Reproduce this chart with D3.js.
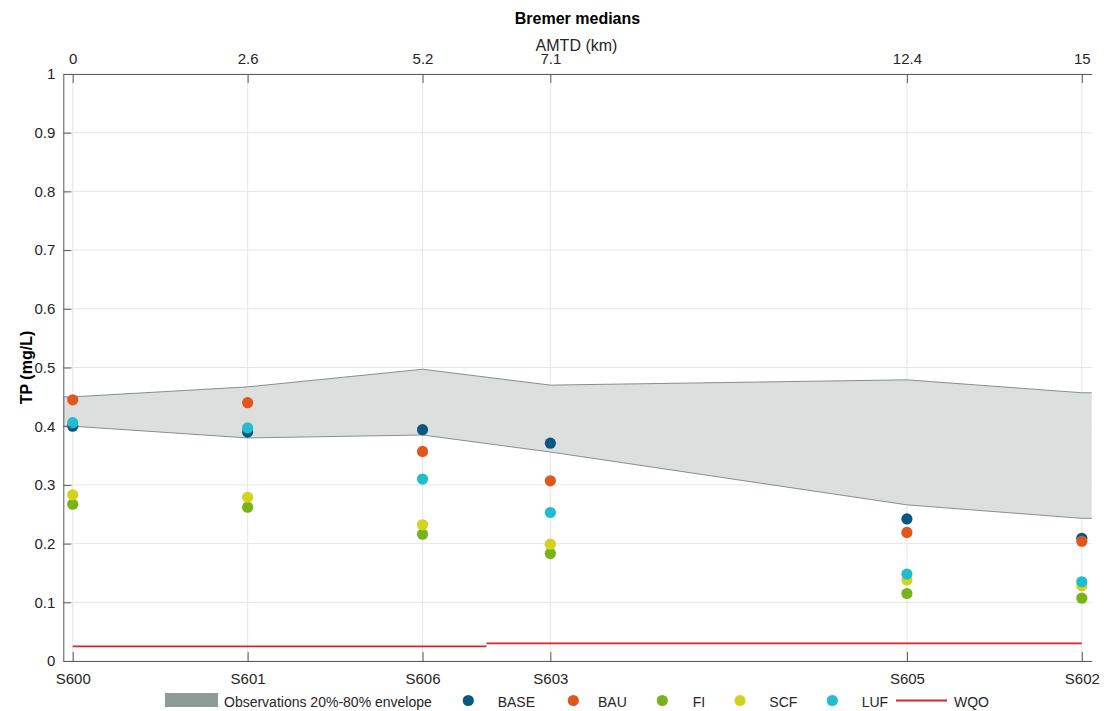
<!DOCTYPE html>
<html>
<head>
<meta charset="utf-8">
<script src="https://cdn.jsdelivr.net/npm/d3@7"></script>
<style>
  html, body { margin: 0; padding: 0; background: #fff; }
  svg { display: block; font-family: "Liberation Sans", Arial, Helvetica, sans-serif; }
</style>
</head>
<body>
<svg id="chart" width="1104" height="711"></svg>
<script>
// ---- data ----
const stations = ["S600", "S601", "S606", "S603", "S605", "S602"];
const amtdKm = [0, 2.6, 5.2, 7.1, 12.4, 15];
const amtdLabels = ["0", "2.6", "5.2", "7.1", "12.4", "15"];
const yTicks = [0, 0.1, 0.2, 0.3, 0.4, 0.5, 0.6, 0.7, 0.8, 0.9, 1];

const envLow  = [0.400, 0.380, 0.385, 0.356, 0.266, 0.243];
const envHigh = [0.450, 0.467, 0.497, 0.470, 0.479, 0.457];

const seriesNames = ["BASE", "BAU", "FI", "SCF", "LUF"];
const seriesColors = ["#0b5784", "#e1561b", "#78b31c", "#d5d21c", "#21bccf"];
const BASE = [0.400, 0.390, 0.394, 0.371, 0.242, 0.209];
const BAU  = [0.445, 0.440, 0.357, 0.307, 0.219, 0.204];
const FI   = [0.267, 0.262, 0.216, 0.183, 0.115, 0.107];
const SCF  = [0.283, 0.279, 0.232, 0.199, 0.138, 0.128];
const LUF  = [0.406, 0.397, 0.310, 0.253, 0.148, 0.135];
const seriesValues = [BASE, BAU, FI, SCF, LUF];

// WQO stepped objective: [startKm, endKm, value]
const wqoSegments = [[0, 6.15, 0.025], [6.15, 15, 0.030]];

// ---- layout ----
const svg = d3.select("#chart");
const pL = 63.3, pR = 1091.7, pT = 74, pB = 661;
const x = d3.scaleLinear().domain([-0.14, 15.147]).range([pL, pR]);
const y = d3.scaleLinear().domain([0, 1]).range([pB, pT]);
const textColor = "#262626";
const axisColor = "#5a5a5a";

// grid
const grid = svg.append("g");
grid.selectAll("line.gx").data(amtdKm).join("line")
  .attr("x1", d => x(d)).attr("x2", d => x(d))
  .attr("y1", pT).attr("y2", pB)
  .attr("stroke", "#e6e6e6").attr("stroke-width", 1);
grid.selectAll("line.gy").data(yTicks).join("line")
  .attr("x1", pL).attr("x2", pR)
  .attr("y1", d => y(d)).attr("y2", d => y(d))
  .attr("stroke", "#e6e6e6").attr("stroke-width", 1);

// envelope (extended flat to the axis limits)
const [d0, d1] = x.domain();
const envPts = amtdKm.map((k, i) => ({k, lo: envLow[i], hi: envHigh[i]}));
envPts.unshift({k: d0, lo: envLow[0], hi: envHigh[0]});
envPts.push({k: d1, lo: envLow[envLow.length - 1], hi: envHigh[envHigh.length - 1]});
const area = d3.area().x(d => x(d.k)).y0(d => y(d.lo)).y1(d => y(d.hi));
svg.append("path").datum(envPts).attr("d", area)
  .attr("fill", "#dcdfde").attr("stroke", "none");
const edge = svg.append("g").attr("fill", "none").attr("stroke", "#7a8583").attr("stroke-width", 0.9);
edge.append("path").datum(envPts).attr("d", d3.line().x(d => x(d.k)).y(d => y(d.hi)));
edge.append("path").datum(envPts).attr("d", d3.line().x(d => x(d.k)).y(d => y(d.lo)));

// WQO
svg.append("g").selectAll("line").data(wqoSegments).join("line")
  .attr("x1", d => x(d[0])).attr("x2", d => x(d[1]))
  .attr("y1", d => y(d[2])).attr("y2", d => y(d[2]))
  .attr("stroke", "#d62728").attr("stroke-width", 1.8);

// points
seriesValues.forEach((vals, si) => {
  svg.append("g").selectAll("circle").data(vals).join("circle")
    .attr("cx", (d, i) => x(amtdKm[i]))
    .attr("cy", d => y(d))
    .attr("r", 5.6)
    .attr("fill", seriesColors[si]);
});

// axes
const tickFont = "15px";
const yAxis = svg.append("g").attr("transform", `translate(${pL},0)`)
  .call(d3.axisLeft(y).tickValues(yTicks).tickFormat(d3.format("~g")).tickSizeInner(-8).tickSizeOuter(0).tickPadding(8));
const xBottom = svg.append("g").attr("transform", `translate(0,${pB})`)
  .call(d3.axisBottom(x).tickValues(amtdKm).tickFormat((d, i) => stations[i]).tickSizeInner(-9).tickSizeOuter(0).tickPadding(12));
const xTop = svg.append("g").attr("transform", `translate(0,${pT})`)
  .call(d3.axisTop(x).tickValues(amtdKm).tickFormat((d, i) => amtdLabels[i]).tickSizeInner(-9).tickSizeOuter(0).tickPadding(10));
[yAxis, xBottom, xTop].forEach(g => {
  g.select(".domain").attr("stroke", axisColor).attr("stroke-width", 1);
  g.selectAll(".tick line").attr("stroke", axisColor).attr("stroke-width", 1);
  g.selectAll(".tick text").attr("fill", textColor).style("font-size", tickFont)
    .style("font-family", '"Liberation Sans", Arial, sans-serif');
});

// titles
svg.append("text").attr("x", (pL + pR) / 2).attr("y", 24)
  .attr("text-anchor", "middle").attr("font-weight", "bold").attr("font-size", "16px")
  .attr("fill", "#000").text("Bremer medians");
svg.append("text").attr("x", (pL + pR) / 2 - 1).attr("y", 51)
  .attr("text-anchor", "middle").attr("font-size", "16px")
  .attr("fill", textColor).text("AMTD (km)");
svg.append("text").attr("transform", `translate(32,${(pT + pB) / 2}) rotate(-90)`)
  .attr("text-anchor", "middle").attr("font-weight", "bold").attr("font-size", "16px")
  .attr("fill", "#000").text("TP (mg/L)");

// legend
const leg = svg.append("g").attr("font-size", "14px").attr("fill", textColor);
const ly = 700.5;
leg.append("rect").attr("x", 165).attr("y", 693).attr("width", 53).attr("height", 14).attr("fill", "#8d9c97");
leg.append("text").attr("x", 224).attr("y", 706.5).text("Observations 20%-80% envelope");
const legMarkX = [468.3, 573.3, 662.3, 740, 832.3];
const legTextX = [497.7, 598, 692.7, 769.3, 861.7];
seriesNames.forEach((n, i) => {
  leg.append("circle").attr("cx", legMarkX[i]).attr("cy", ly).attr("r", 5.6).attr("fill", seriesColors[i]);
  leg.append("text").attr("x", legTextX[i]).attr("y", 706.5).text(n);
});
leg.append("line").attr("x1", 896).attr("x2", 947).attr("y1", ly).attr("y2", ly)
  .attr("stroke", "#d62728").attr("stroke-width", 1.8);
leg.append("text").attr("x", 954).attr("y", 706.5).text("WQO");
</script>
</body>
</html>
